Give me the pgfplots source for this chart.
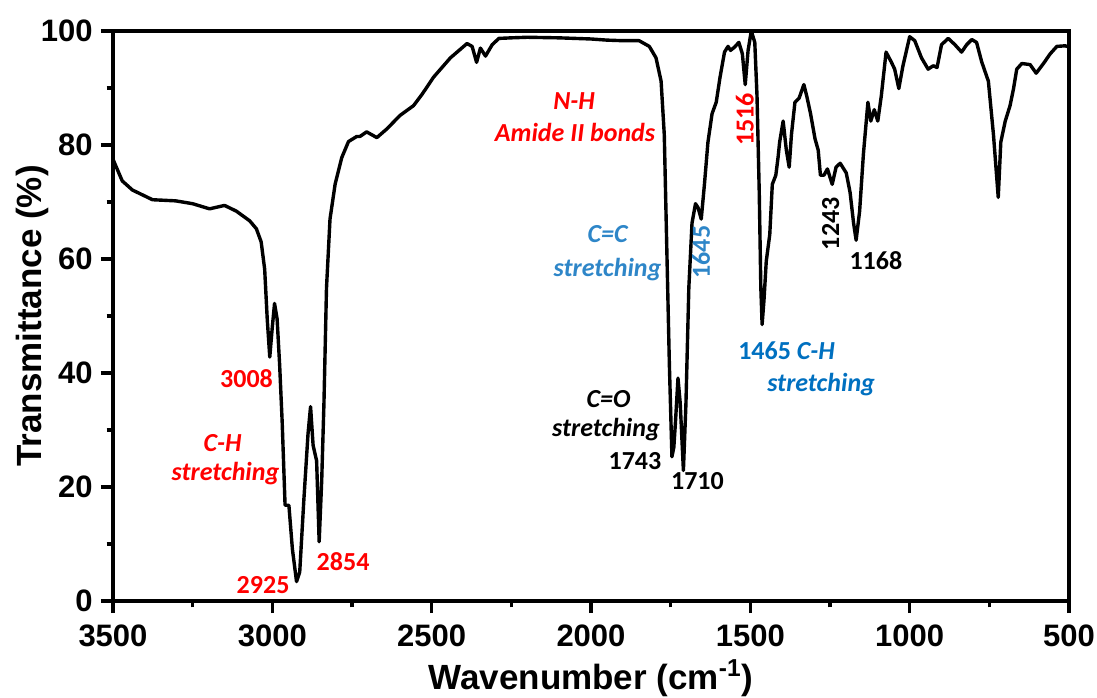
\documentclass[border=0pt]{standalone}
\usepackage{fontspec}
\setmainfont{Liberation Sans}
\newfontfamily\calfont{Carlito}
\usepackage{pgfplots}
\pgfplotsset{compat=1.18}
\definecolor{ccblue}{RGB}{46,134,200}
\definecolor{chblue}{RGB}{0,112,192}
\tikzset{
  ann/.style={font=\calfont\bfseries\fontsize{13}{15}\selectfont, inner sep=0pt, anchor=base},
  anni/.style={font=\calfont\bfseries\itshape\fontsize{13}{15}\selectfont, inner sep=0pt, anchor=base},
}
\begin{document}
\begin{tikzpicture}
\begin{axis}[
  scale only axis, width=478pt, height=285pt,
  x dir=reverse, xmin=500, xmax=3500, ymin=0, ymax=100,
  xtick={500,1000,...,3500}, ytick={0,20,...,100},
  minor x tick num=1, minor y tick num=1,
  tick align=outside, xtick pos=left, ytick pos=left,
  major tick length=6pt, minor tick length=3.2pt,
  every tick/.style={black, line width=1.6pt},
  axis line style={line width=2.2pt},
  /pgf/number format/assume math mode=true,
  /pgf/number format/1000 sep={},
  ticklabel style={font=\bfseries\fontsize{15.5}{18}\selectfont, inner sep=0pt},
  xticklabel style={anchor=base, yshift=-16.5pt},
  yticklabel style={anchor=east, xshift=-4pt},
  xlabel={Wavenumber (cm\textsuperscript{-1})},
  ylabel={Transmittance (\%)},
  label style={font=\bfseries\fontsize{17.5}{20}\selectfont, inner sep=0pt},
  xlabel style={at={([yshift=-44pt]axis description cs:0.5,0)}, anchor=base},
  ylabel style={at={([xshift=-35.5pt]axis description cs:0,0.5)}, anchor=base},
]
\addplot[black, line width=1.7pt, line join=round] table {
w T
3500 77.5
3497 77.1
3471 73.7
3439 72.1
3376 70.4
3303 70.2
3250 69.7
3197 68.8
3150 69.4
3113 68.4
3071 66.7
3050 65.3
3035 63.0
3024 58.2
3016 49.5
3008 42.8
3000 48.1
2993 52.2
2985 49.5
2977 41.4
2969 31.3
2960 16.8
2948 16.8
2937 9.1
2924 3.4
2914 5.1
2901 17.8
2888 29.3
2880 34.1
2872 27.3
2861 24.6
2853 10.4
2845 21.2
2838 34.7
2830 54.9
2819 67.0
2803 73.1
2782 77.8
2761 80.6
2735 81.5
2725 81.5
2704 82.3
2688 81.8
2672 81.3
2641 82.8
2599 85.2
2557 86.9
2530 88.9
2494 91.9
2441 95.3
2389 97.8
2373 97.3
2359 94.5
2347 97.0
2331 95.6
2310 97.6
2289 98.7
2250 98.8
2200 98.9
2100 98.8
2000 98.6
1950 98.4
1900 98.3
1849 98.3
1817 97.3
1796 95.3
1780 91.2
1770 81.8
1762 61.6
1754 41.4
1746 25.3
1740 27.0
1735 31.3
1727 39.1
1720 34.7
1710 22.9
1702 34.7
1693 54.9
1683 66.3
1672 69.7
1664 69.0
1654 67.0
1644 73.1
1633 80.5
1620 85.5
1607 87.5
1595 91.9
1581 96.3
1570 97.3
1562 96.6
1549 97.2
1536 98.0
1525 96.0
1516 90.6
1507 96.6
1497 100
1486 98.0
1479 88.6
1472 71.7
1467 54.9
1463 48.5
1457 52.9
1450 59.6
1439 64.3
1431 73.1
1420 74.7
1413 77.8
1408 80.5
1397 84.2
1387 79.1
1378 76.1
1371 81.8
1360 87.5
1347 88.2
1332 90.6
1323 88.6
1311 85.5
1297 81.1
1287 79.1
1280 74.7
1269 74.7
1258 75.8
1243 73.1
1231 76.1
1218 76.8
1199 75.1
1187 71.7
1176 66.3
1168 63.3
1157 68.4
1145 78.5
1131 87.5
1122 84.2
1111 86.2
1100 84.2
1089 88.6
1074 96.3
1058 94.6
1047 93.3
1034 89.9
1021 93.9
1000 99.0
984 98.3
963 95.3
942 93.3
926 93.9
914 93.6
900 97.6
879 98.7
858 97.6
837 96.3
821 97.6
805 98.5
790 98.0
774 94.6
753 91.2
737 81.8
722 70.8
714 80.5
700 84.2
685 86.9
674 89.9
664 93.3
648 94.3
622 94.1
603 92.6
580 94.3
559 96.0
538 97.3
512 97.4
500 97.2
};
% red annotations
\node[ann, red] at (axis cs:3081,37.4) {3008};
\node[anni, red] at (axis cs:3156,26.3) {C-H};
\node[anni, red] at (axis cs:3147,21.2) {stretching};
\node[ann, red] at (axis cs:3029,1.35) {2925};
\node[ann, red] at (axis cs:2778,5.4) {2854};
\node[anni, red] at (axis cs:2053,86.3) {N-H};
\node[anni, red] at (axis cs:2050,80.7) {Amide II bonds};
\node[ann, red, rotate=90] at (axis cs:1489.5,84.5) {1516};
% blue annotations
\node[anni, ccblue] at (axis cs:1948,62.9) {C=C};
\node[anni, ccblue] at (axis cs:1948,57.0) {stretching};
\node[ann, ccblue, rotate=90] at (axis cs:1627,61.2) {1645};
\node[ann, chblue, anchor=base west] at (axis cs:1539,42.4) {1465 \textit{C-H}};
\node[anni, chblue, anchor=base west] at (axis cs:1448,36.8) {stretching};
% black annotations
\node[anni] at (axis cs:1945,34.0) {C=O};
\node[anni] at (axis cs:1953,28.9) {stretching};
\node[ann] at (axis cs:1862,23.0) {1743};
\node[ann] at (axis cs:1666,19.5) {1710};
\node[ann, rotate=90] at (axis cs:1221,66.2) {1243};
\node[ann] at (axis cs:1106,58.2) {1168};
\end{axis}
\pgfresetboundingbox
\useasboundingbox (-56.5pt,-48pt) rectangle (492pt,300.5pt);
\end{tikzpicture}
\end{document}
